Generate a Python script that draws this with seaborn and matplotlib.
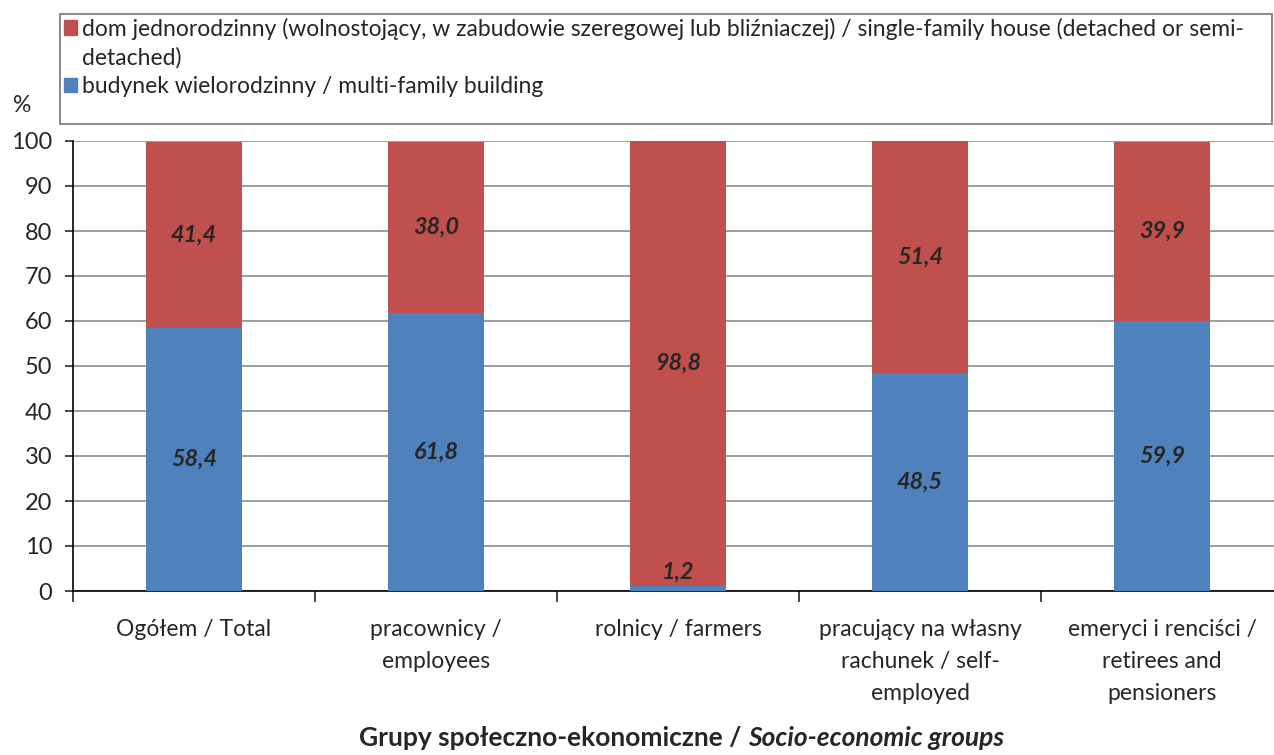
import matplotlib
matplotlib.use("Agg")
import matplotlib.pyplot as plt
import matplotlib.patches as mpatches
import pandas as pd
import seaborn as sns

# DATA
groups = ["Ogółem / Total", "pracownicy /\nemployees", "rolnicy / farmers",
          "pracujący na własny\nrachunek / self-\nemployed",
          "emeryci i renciści /\nretirees and\npensioners"]
multi_family = [58.4, 61.8, 1.2, 48.5, 59.9]
single_family = [41.4, 38.0, 98.8, 51.4, 39.9]
label_single = "dom jednorodzinny (wolnostojący, w zabudowie szeregowej lub bliźniaczej) / single-family house (detached or semi-"
label_single_2 = "detached)"
label_multi = "budynek wielorodzinny / multi-family building"

RED = "#C0504D"
BLUE = "#4F81BD"
FS = 16.5

df = pd.DataFrame({"group": groups, "multi": multi_family, "single": single_family})
df["total"] = df["multi"] + df["single"]

sns.set_style("white")
plt.rcParams["font.family"] = ["Lato", "DejaVu Sans"]

fig = plt.figure(figsize=(12.74, 7.55), dpi=100)
ax = fig.add_axes([73 / 1274, 164 / 755, 1210 / 1274, 450 / 755])

# stacked bars: total in red, multi-family in blue on top
sns.barplot(data=df, x="group", y="total", color=RED, width=0.4, saturation=1,
            linewidth=0, ax=ax, zorder=2)
sns.barplot(data=df, x="group", y="multi", color=BLUE, width=0.4, saturation=1,
            linewidth=0, ax=ax, zorder=3)

ax.set_ylim(0, 100)
ax.set_xlim(-0.5, 4.5)
ax.set_yticks(range(0, 101, 10))
ax.yaxis.grid(True, color="#8c8c8c", linewidth=1.2, zorder=0)
ax.set_axisbelow(True)
for s in ["top", "right"]:
    ax.spines[s].set_visible(False)
for s in ["left", "bottom"]:
    ax.spines[s].set_color("black")
    ax.spines[s].set_linewidth(1.2)

ax.set_xlabel("")
ax.set_ylabel("")
ax.tick_params(axis="y", left=True, length=6, width=1.2, direction="out", pad=9, labelsize=17)
ax.tick_params(axis="x", which="major", length=0, pad=20, labelsize=FS)
for lbl in ax.get_xticklabels():
    lbl.set_linespacing(1.65)
ax.set_xticks([i - 0.5 for i in range(6)], minor=True)
ax.tick_params(axis="x", which="minor", bottom=True, length=8, width=1.2, direction="out")

# value labels
for i, (m, s) in enumerate(zip(multi_family, single_family)):
    ym = m / 2 if m >= 5 else m + 3
    ax.text(i, ym, f"{m:.1f}".replace(".", ","), ha="center", va="center",
            fontsize=16.8, fontweight="bold", fontstyle="italic", zorder=5)
    ax.text(i, m + s / 2, f"{s:.1f}".replace(".", ","), ha="center", va="center",
            fontsize=16.8, fontweight="bold", fontstyle="italic", zorder=5)

fig.text(22 / 1274, 1 - 105 / 755, "%", ha="center", va="center", fontsize=FS)

# legend box
fig.add_artist(mpatches.Rectangle((60 / 1274, 1 - 124 / 755), 1212 / 1274, 110 / 755,
                                  transform=fig.transFigure, fill=False,
                                  edgecolor="#8c8c8c", linewidth=1.5))
handles = [mpatches.Patch(color=RED), mpatches.Patch(color="none"), mpatches.Patch(color=BLUE)]
fig.legend(handles, [label_single, label_single_2, label_multi], loc="upper left",
           bbox_to_anchor=(59 / 1274, 1 - 13 / 755), frameon=False, fontsize=FS,
           handlelength=0.6, handleheight=0.6, handletextpad=0.2, labelspacing=0.32,
           borderpad=0.2, borderaxespad=0)

# axis title: bold + bold italic
t1 = fig.text(359 / 1274, 1 - 738 / 755, "Grupy społeczno-ekonomiczne / ", ha="left", va="center",
              fontsize=19, fontweight="bold")
ax.annotate("Socio-economic groups", xy=(1, 0), xycoords=t1, va="bottom", ha="left",
            fontsize=19, fontweight="bold", fontstyle="italic", annotation_clip=False)

fig.savefig("out.png", dpi=100)
